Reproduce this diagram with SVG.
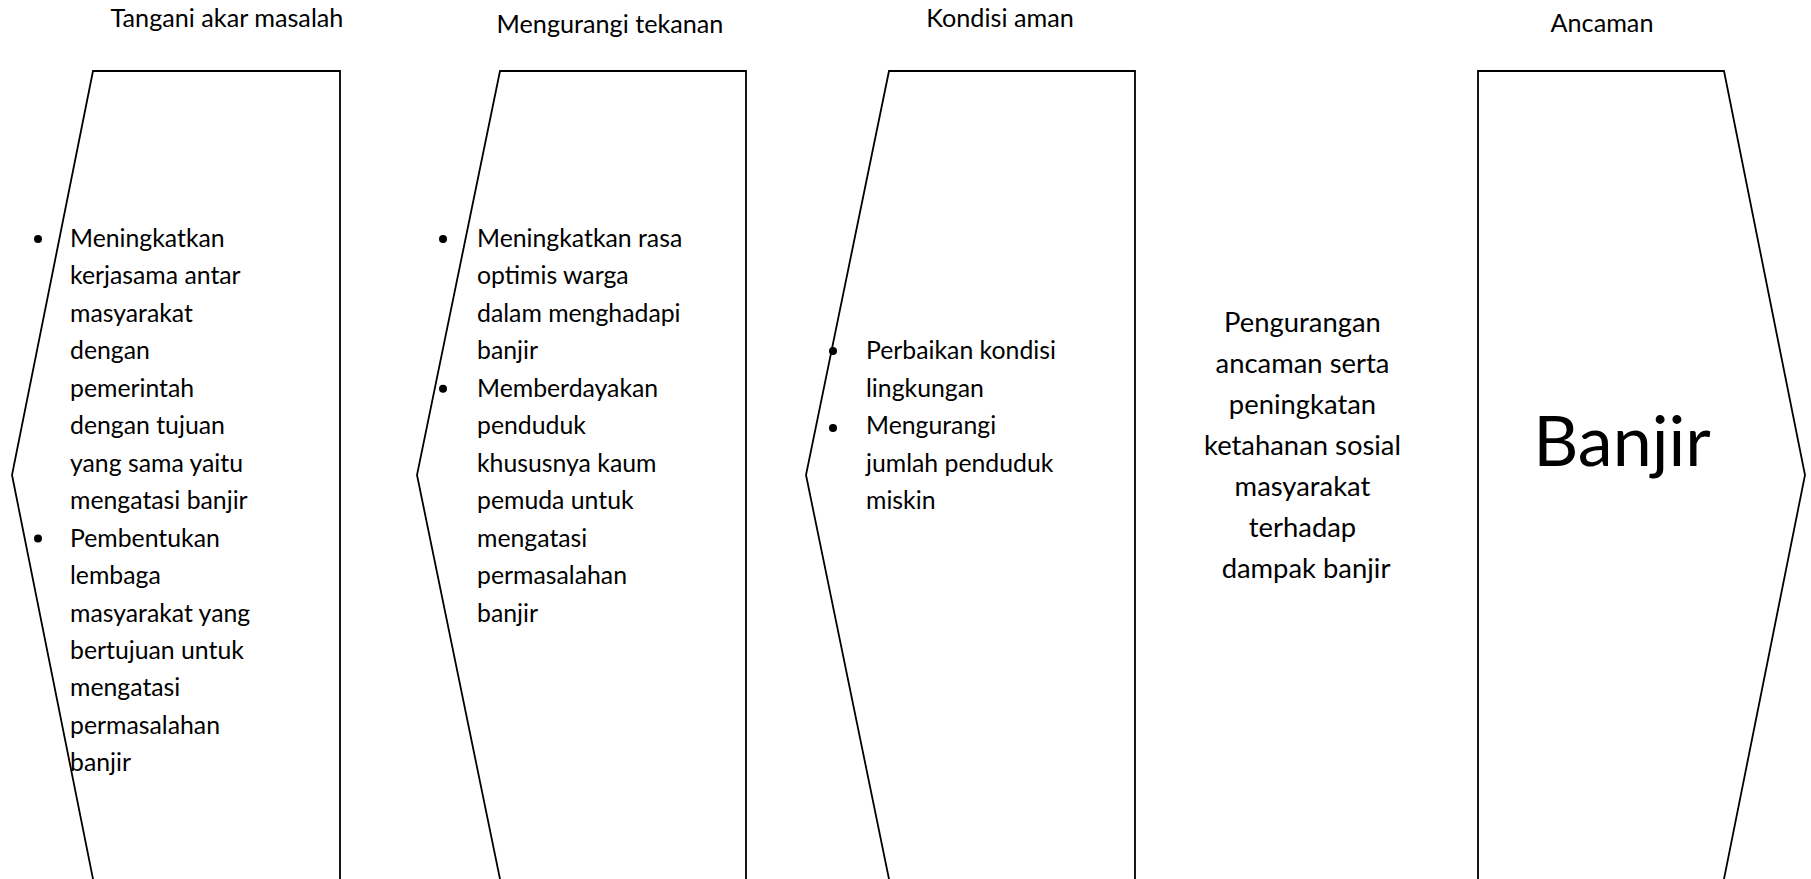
<svg xmlns="http://www.w3.org/2000/svg" width="1811" height="879" viewBox="0 0 1811 879">
<style>
.shape{fill:none;stroke:#000;stroke-width:1.8;stroke-linejoin:miter}
.t{font-family:Lato,"Open Sans","Liberation Sans",sans-serif;font-size:24.8px;fill:#000}
.c{font-family:Lato,"Open Sans","Liberation Sans",sans-serif;font-size:27.4px;fill:#000;text-anchor:middle}
.title{font-family:Lato,"Open Sans","Liberation Sans",sans-serif;font-size:25.2px;fill:#000;text-anchor:middle}
.big{font-family:Lato,"Open Sans","Liberation Sans",sans-serif;font-size:70px;fill:#000;text-anchor:middle}
.b{fill:#000}
</style>
<rect width="1811" height="879" fill="#fff"/>
<g id="titles">
<text class="title" x="227" y="27">Tangani akar masalah</text>
<text class="title" x="610" y="33">Mengurangi tekanan</text>
<text class="title" x="1000" y="27">Kondisi aman</text>
<text class="title" x="1602" y="32">Ancaman</text>
</g>
<g id="node-akar">
<path class="shape" d="M340,882 V71 H93 L12,475 L93.6,882"/>
<circle class="b" cx="38" cy="239" r="4"/>
<circle class="b" cx="38" cy="538.6" r="4"/>
<text class="t" x="70">
<tspan x="70" y="247">Meningkatkan</tspan>
<tspan x="70" y="284.45">kerjasama antar</tspan>
<tspan x="70" y="321.9">masyarakat</tspan>
<tspan x="70" y="359.35">dengan</tspan>
<tspan x="70" y="396.8">pemerintah</tspan>
<tspan x="70" y="434.25">dengan tujuan</tspan>
<tspan x="70" y="471.7">yang sama yaitu</tspan>
<tspan x="70" y="509.15">mengatasi banjir</tspan>
<tspan x="70" y="546.6">Pembentukan</tspan>
<tspan x="70" y="584.05">lembaga</tspan>
<tspan x="70" y="621.5">masyarakat yang</tspan>
<tspan x="70" y="658.95">bertujuan untuk</tspan>
<tspan x="70" y="696.4">mengatasi</tspan>
<tspan x="70" y="733.85">permasalahan</tspan>
<tspan x="70" y="771.3">banjir</tspan>
</text>
</g>
<g id="node-tekanan">
<path class="shape" d="M746,882 V71 H500 L417,475 L500.6,882"/>
<circle class="b" cx="443" cy="239" r="4"/>
<circle class="b" cx="443" cy="388.8" r="4"/>
<text class="t">
<tspan x="477" y="247">Meningkatkan rasa</tspan>
<tspan x="477" y="284.45">optimis warga</tspan>
<tspan x="477" y="321.9">dalam menghadapi</tspan>
<tspan x="477" y="359.35">banjir</tspan>
<tspan x="477" y="396.8">Memberdayakan</tspan>
<tspan x="477" y="434.25">penduduk</tspan>
<tspan x="477" y="471.7">khususnya kaum</tspan>
<tspan x="477" y="509.15">pemuda untuk</tspan>
<tspan x="477" y="546.6">mengatasi</tspan>
<tspan x="477" y="584.05">permasalahan</tspan>
<tspan x="477" y="621.5">banjir</tspan>
</text>
</g>
<g id="node-aman">
<path class="shape" d="M1135,882 V71 H889 L806,475 L889.6,882"/>
<circle class="b" cx="833" cy="351" r="4"/>
<circle class="b" cx="833" cy="428" r="4"/>
<text class="t">
<tspan x="866" y="359">Perbaikan kondisi</tspan>
<tspan x="866" y="396.5">lingkungan</tspan>
<tspan x="866" y="434">Mengurangi</tspan>
<tspan x="866" y="471.5">jumlah penduduk</tspan>
<tspan x="866" y="509">miskin</tspan>
</text>
</g>
<g id="node-tujuan">
<text class="c">
<tspan x="1306" y="332">Pengurangan</tspan>
<tspan x="1306" y="373">ancaman serta</tspan>
<tspan x="1306" y="414">peningkatan</tspan>
<tspan x="1306" y="455">ketahanan sosial</tspan>
<tspan x="1306" y="496">masyarakat</tspan>
<tspan x="1306" y="537">terhadap</tspan>
<tspan x="1306" y="578">dampak banjir</tspan>
</text>
</g>
<g id="node-ancaman">
<path class="shape" d="M1478,882 V71 H1724 L1805,475 L1723.4,882"/>
<text class="big" x="1622" y="466">Banjir</text>
</g>
<g id="connectors"></g>
</svg>
